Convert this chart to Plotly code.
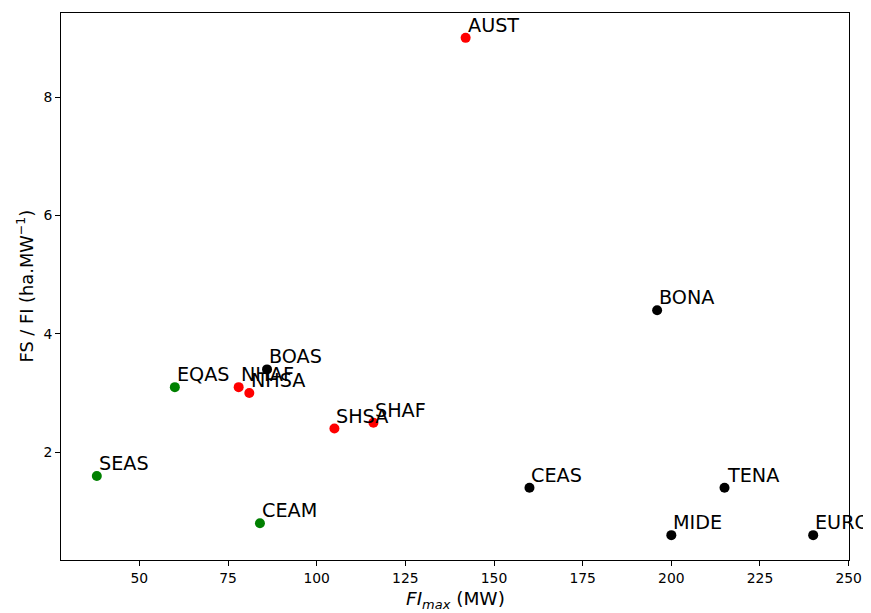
import plotly.graph_objects as go

regions = ["AUST", "BONA", "BOAS", "EQAS", "NHAF", "NHSA", "SHSA", "SHAF",
           "SEAS", "CEAM", "CEAS", "TENA", "MIDE", "EURO"]
fi_max = [142, 196, 86, 60, 78, 81, 105, 116, 38, 84, 160, 215, 200, 240]
fs_fi = [9.0, 4.4, 3.4, 3.1, 3.1, 3.0, 2.4, 2.5, 1.6, 0.8, 1.4, 1.4, 0.6, 0.6]
colors = ["red", "black", "black", "green", "red", "red", "red", "red",
          "green", "green", "black", "black", "black", "black"]
x_ticks = [50, 75, 100, 125, 150, 175, 200, 225, 250]
y_ticks = [2, 4, 6, 8]

FONT = "DejaVu Sans"
PAGE_OFFSET = 8  # default body margin of the html page

fig = go.Figure()
fig.add_trace(go.Scatter(
    x=fi_max, y=fs_fi, mode="markers",
    marker=dict(size=10, color=colors, line=dict(width=0)),
    hoverinfo="text", text=regions, showlegend=False, cliponaxis=False,
))

for name, xv, yv in zip(regions, fi_max, fs_fi):
    fig.add_annotation(
        x=xv, y=yv, text=name, showarrow=False,
        xanchor="left", yanchor="bottom", xshift=0, yshift=-1,
        font=dict(family=FONT, size=19.2, color="black"),
    )

# axis titles as annotations in paper coordinates
fig.add_annotation(
    xref="paper", yref="paper", x=0.5, y=0, yshift=-40,
    xanchor="center", yanchor="middle", showarrow=False,
    text="<i>FI</i><sub><i>max</i></sub> (MW)",
    font=dict(family=FONT, size=18.5, color="black"),
)
fig.add_annotation(
    xref="paper", yref="paper", x=0, y=0.5, xshift=-36,
    xanchor="center", yanchor="middle", showarrow=False, textangle=-90,
    text="FS / FI (ha.MW<sup>−1</sup>)",
    font=dict(family=FONT, size=17.8, color="black"),
)

# axis range with 5% margin like matplotlib
xmin, xmax = min(fi_max), max(fi_max)
ymin, ymax = min(fs_fi), max(fs_fi)
xpad = 0.05 * (xmax - xmin)
ypad = 0.05 * (ymax - ymin)

axis_common = dict(
    showgrid=False, zeroline=False, showline=True, linecolor="black",
    linewidth=1, mirror=True, ticks="outside", ticklen=5, tickwidth=1,
    tickcolor="black", tickfont=dict(family=FONT, size=13.9, color="black"),
    automargin=False,
)

fig.update_xaxes(range=[xmin - xpad, xmax + xpad], tickvals=x_ticks, **axis_common)
fig.update_yaxes(range=[ymin - ypad, ymax + ypad], tickvals=y_ticks, **axis_common)

fig.update_layout(
    width=871 - PAGE_OFFSET, height=613 - PAGE_OFFSET,
    margin=dict(l=61 - PAGE_OFFSET, r=22, t=13 - PAGE_OFFSET, b=53),
    plot_bgcolor="white", paper_bgcolor="white",
    font=dict(family=FONT),
)

fig.write_html("out.html")
